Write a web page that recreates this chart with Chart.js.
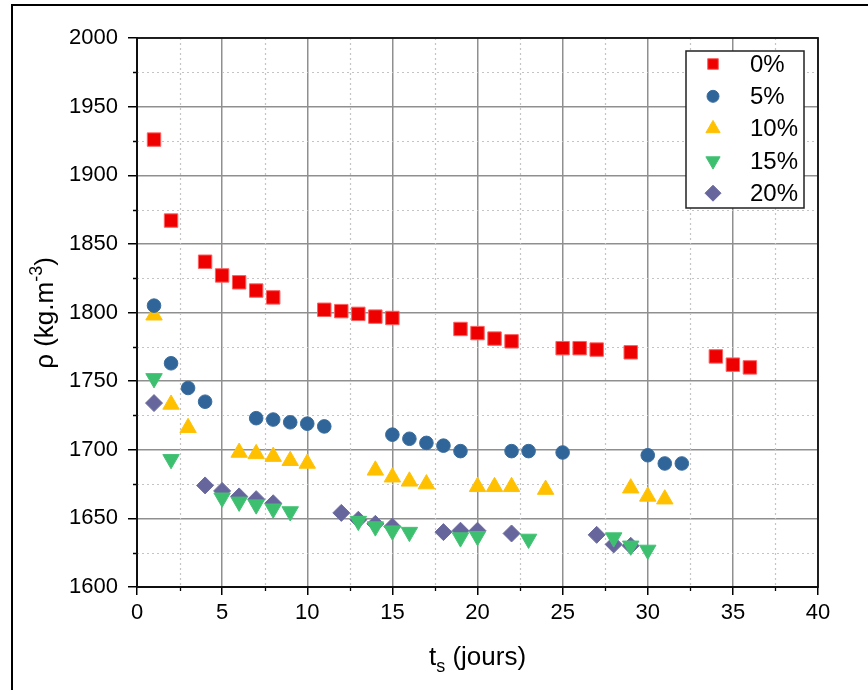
<!DOCTYPE html>
<html>
<head>
<meta charset="utf-8">
<script src="https://cdn.jsdelivr.net/npm/chart.js@4/dist/chart.umd.min.js"></script>
<style>
  body { margin: 0; background: #fff; }
  #wrap { width: 868px; height: 690px; }
</style>
</head>
<body>
<div id="wrap"><canvas id="density" width="868" height="690"></canvas></div>
<script>
// jours de sechage / masse volumique, une serie par teneur
var labels = ["0%", "5%", "10%", "15%", "20%"];

var days0 = [1, 2, 4, 5, 6, 7, 8, 11, 12, 13, 14, 15, 19, 20, 21, 22, 25, 26, 27, 29, 34, 35, 36];
var rho0 = [1926, 1867, 1837, 1827, 1822, 1816, 1811, 1802, 1801, 1799, 1797, 1796, 1788, 1785, 1781, 1779, 1774, 1774, 1773, 1771, 1768, 1762, 1760];

var days5 = [1, 2, 3, 4, 7, 8, 9, 10, 11, 15, 16, 17, 18, 19, 22, 23, 25, 30, 31, 32];
var rho5 = [1805, 1763, 1745, 1735, 1723, 1722, 1720, 1719, 1717, 1711, 1708, 1705, 1703, 1699, 1699, 1699, 1698, 1696, 1690, 1690];

var days10 = [1, 2, 3, 6, 7, 8, 9, 10, 14, 15, 16, 17, 20, 21, 22, 24, 29, 30, 31];
var rho10 = [1798, 1733, 1716, 1698, 1697, 1695, 1692, 1690, 1685, 1680, 1677, 1675, 1673, 1673, 1673, 1671, 1672, 1666, 1664];

var days15 = [1, 2, 5, 6, 7, 8, 9, 13, 14, 15, 16, 19, 20, 23, 28, 29, 30];
var rho15 = [1752, 1693, 1665, 1662, 1660, 1657, 1655, 1648, 1644, 1641, 1640, 1636, 1637, 1635, 1636, 1630, 1627];

var days20 = [1, 4, 5, 6, 7, 8, 12, 13, 14, 15, 18, 19, 20, 22, 27, 28, 29];
var rho20 = [1734, 1674, 1670, 1666, 1664, 1661, 1654, 1649, 1646, 1644, 1640, 1641, 1641, 1639, 1638, 1631, 1630];

var xTicks = [0, 5, 10, 15, 20, 25, 30, 35, 40];
var yTicks = [1600, 1650, 1700, 1750, 1800, 1850, 1900, 1950, 2000];
var xMinor = [2.5, 7.5, 12.5, 17.5, 22.5, 27.5, 32.5, 37.5];
var yMinor = [1625, 1675, 1725, 1775, 1825, 1875, 1925, 1975];

var FONT = "'Liberation Sans', Arial, sans-serif";

function pts(xs, ys) {
  var out = [];
  for (var i = 0; i < xs.length; i++) out.push({x: xs[i], y: ys[i]});
  return out;
}

var datasets = [
  {label: labels[0], data: pts(days0, rho0), pointStyle: "rect", pointRadius: 9.5,
   backgroundColor: "#ee0000", borderColor: "#ff6060", borderWidth: 1},
  {label: labels[1], data: pts(days5, rho5), pointStyle: "circle", pointRadius: 6.8,
   backgroundColor: "#2f6598", borderColor: "#3a6d9e", borderWidth: 1},
  {label: labels[2], data: pts(days10, rho10), pointStyle: "triangle", pointRadius: 9.5,
   backgroundColor: "#ffc000", borderColor: "#ffc20a", borderWidth: 1},
  {label: labels[3], data: pts(days15, rho15), pointStyle: "triangle", rotation: 180, pointRadius: 9.5,
   backgroundColor: "#3cbf6e", borderColor: "#44c275", borderWidth: 1},
  {label: labels[4], data: pts(days20, rho20), pointStyle: "rectRot", pointRadius: 8.5,
   backgroundColor: "#67669c", borderColor: "#6d6ca0", borderWidth: 1}
];

// grille secondaire pointillee + petites graduations
var minorGrid = {
  id: "minorGrid",
  beforeDatasetsDraw: function(chart) {
    var ctx = chart.ctx, a = chart.chartArea;
    var sx = chart.scales.x, sy = chart.scales.y;
    ctx.save();
    ctx.strokeStyle = "#c4c4c4";
    ctx.lineWidth = 1.2;
    ctx.setLineDash([2, 3]);
    ctx.beginPath();
    xMinor.forEach(function(v) {
      var px = Math.round(sx.getPixelForValue(v)) + 0.5;
      ctx.moveTo(px, a.top);
      ctx.lineTo(px, a.bottom);
    });
    yMinor.forEach(function(v) {
      var py = Math.round(sy.getPixelForValue(v)) + 0.5;
      ctx.moveTo(a.left, py);
      ctx.lineTo(a.right, py);
    });
    ctx.stroke();
    ctx.setLineDash([]);
    ctx.strokeStyle = "#000";
    ctx.lineWidth = 1.3;
    ctx.beginPath();
    xMinor.forEach(function(v) {
      var px = Math.round(sx.getPixelForValue(v)) + 0.5;
      ctx.moveTo(px, a.bottom);
      ctx.lineTo(px, a.bottom + 4);
    });
    yMinor.forEach(function(v) {
      var py = Math.round(sy.getPixelForValue(v)) + 0.5;
      ctx.moveTo(a.left, py);
      ctx.lineTo(a.left - 4, py);
    });
    ctx.stroke();
    ctx.restore();
  }
};

// cadre exterieur + cadre du graphe + titres + legende
var decor = {
  id: "decor",
  beforeDraw: function(chart) {
    var ctx = chart.ctx;
    ctx.save();
    ctx.strokeStyle = "#000";
    ctx.lineWidth = 2;
    ctx.beginPath();
    ctx.moveTo(12, 690);
    ctx.lineTo(12, 5);
    ctx.lineTo(868, 5);
    ctx.stroke();
    ctx.restore();
  },
  afterDraw: function(chart) {
    var ctx = chart.ctx, a = chart.chartArea;
    ctx.save();
    ctx.strokeStyle = "#111";
    ctx.lineWidth = 1.8;
    ctx.strokeRect(a.left, a.top, a.right - a.left, a.bottom - a.top);

    // titre axe x : t_s (jours)
    ctx.fillStyle = "#000";
    ctx.textBaseline = "alphabetic";
    ctx.textAlign = "left";
    var big = "26px " + FONT, small = "18px " + FONT;
    ctx.font = big;
    var w1 = ctx.measureText("t").width;
    var w3 = ctx.measureText(" (jours)").width;
    ctx.font = small;
    var w2 = ctx.measureText("s").width;
    var cx = (a.left + a.right) / 2;
    var x0 = cx - (w1 + w2 + w3) / 2;
    var by = 665;
    ctx.font = big;
    ctx.fillText("t", x0, by);
    ctx.font = small;
    ctx.fillText("s", x0 + w1, by + 7);
    ctx.font = big;
    ctx.fillText(" (jours)", x0 + w1 + w2, by);

    // titre axe y : rho (kg.m-3)
    ctx.save();
    ctx.translate(53, 313);
    ctx.rotate(-Math.PI / 2);
    ctx.font = big;
    var p1 = "\u03c1 (kg.m", p3 = ")";
    var v1 = ctx.measureText(p1).width, v3 = ctx.measureText(p3).width;
    ctx.font = small;
    var v2 = ctx.measureText("-3").width;
    var sx = -(v1 + v2 + v3) / 2;
    ctx.font = big;
    ctx.fillText(p1, sx, 0);
    ctx.font = small;
    ctx.fillText("-3", sx + v1, -11);
    ctx.font = big;
    ctx.fillText(p3, sx + v1 + v2, 0);
    ctx.restore();

    // legende
    var lx = a.right - 132, ly = a.top + 13, lw = 118, lh = 157;
    ctx.fillStyle = "#fff";
    ctx.fillRect(lx, ly, lw, lh);
    ctx.strokeStyle = "#222";
    ctx.lineWidth = 1.5;
    ctx.strokeRect(lx, ly, lw, lh);
    ctx.font = "24px " + FONT;
    ctx.textBaseline = "middle";
    chart.data.datasets.forEach(function(ds, i) {
      var ry = ly + 13 + i * 32.3;
      ctx.fillStyle = ds.backgroundColor;
      ctx.strokeStyle = ds.borderColor;
      ctx.lineWidth = 1;
      var r = ds.pointStyle === "rect" ? 7.5 : (ds.pointStyle === "circle" ? 6 : 8.2);
      if (ds.pointStyle === "rectRot") r = 8;
      Chart.helpers.drawPoint(ctx, {pointStyle: ds.pointStyle, rotation: ds.rotation || 0, radius: r, borderWidth: 1}, lx + 27, ry);
      ctx.fillStyle = "#000";
      ctx.fillText(ds.label, lx + 64, ry + 1);
    });
    ctx.restore();
  }
};

var tickFont = {family: FONT, size: 22};

new Chart(document.getElementById("density"), {
  type: "scatter",
  data: {datasets: datasets},
  options: {
    responsive: false,
    animation: false,
    devicePixelRatio: 1,
    layout: {padding: {top: 38, right: 50, left: 0, bottom: 0}},
    plugins: {legend: {display: false}, tooltip: {enabled: false}},
    scales: {
      x: {
        type: "linear", position: "bottom", min: 0, max: 40,
        afterBuildTicks: function(s) { s.ticks = xTicks.map(function(v) { return {value: v}; }); },
        afterFit: function(s) { s.height = 103; },
        ticks: {font: tickFont, color: "#000", padding: 5, maxRotation: 0,
                callback: function(v) { return String(v); }},
        grid: {color: "#8f8f8f", lineWidth: 1.5, tickColor: "#000", tickLength: 8, tickWidth: 1.5},
        border: {color: "#000", width: 2}
      },
      y: {
        type: "linear", position: "left", min: 1600, max: 2000,
        afterBuildTicks: function(s) { s.ticks = yTicks.map(function(v) { return {value: v}; }); },
        afterFit: function(s) { s.width = 137; },
        ticks: {font: tickFont, color: "#000", padding: 10,
                callback: function(v) { return String(v); }},
        grid: {color: "#8f8f8f", lineWidth: 1.5, tickColor: "#000", tickLength: 9, tickWidth: 1.5},
        border: {color: "#000", width: 2}
      }
    }
  },
  plugins: [minorGrid, decor]
});
</script>
</body>
</html>
